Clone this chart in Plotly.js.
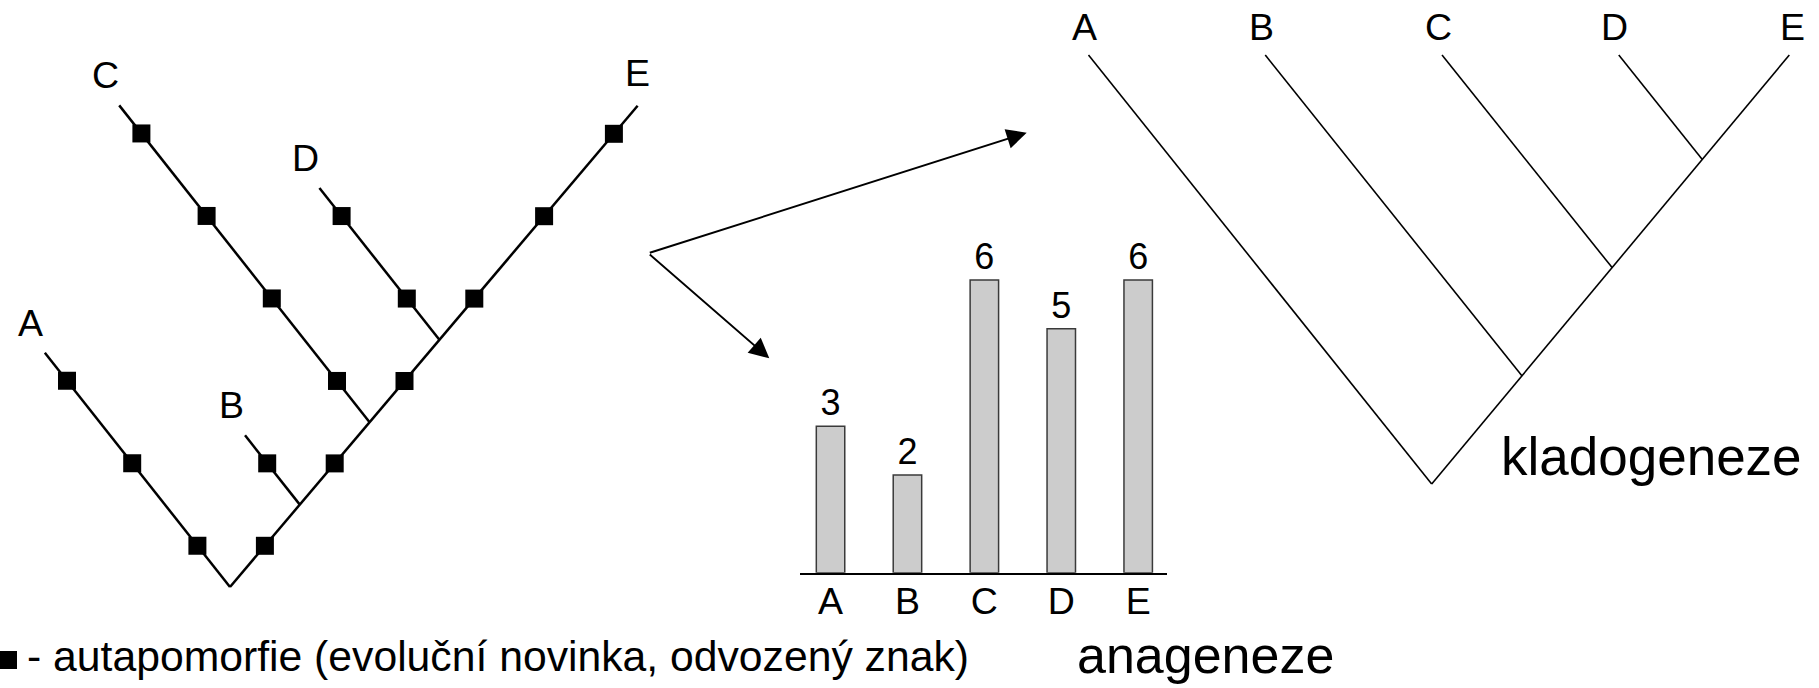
<!DOCTYPE html>
<html><head><meta charset="utf-8">
<script src="https://cdn.plot.ly/plotly-3.0.1.min.js"></script>
<style>html,body{margin:0;padding:0;background:#fff;overflow:hidden}</style>
</head><body><div id="chart" style="width:1819px;height:688px"></div>
<script>
// ---------------- data ----------------
const taxa = ['A', 'B', 'C', 'D', 'E'];
const apomorphies = [3, 2, 6, 5, 6];          // anageneze: autapomorphies per taxon (bar heights)
const branchNode = [0, 1, 2, 3, 3];           // trunk node where each lineage splits (E continues the trunk)
const ownApomorphies = [3, 1, 4, 2, 3];       // squares on each lineage's own branch
const sharedApomorphies = [1, 1, 1];          // squares on trunk segments 0-1, 1-2, 2-3
const legendText = '- autapomorfie (evoluční novinka, odvozený znak)';
const cladoLabel = 'kladogeneze';
const anaLabel = 'anageneze';

// ---------------- styles / geometry ----------------
const FONT = '"Liberation Sans", Arial, Helvetica, sans-serif';
const W = 1819, H = 688;
const LT = {root: [230, 587], U: [69.8, -82.4], V: [-65.2, -82.5], trim: 0.16, sq: 18, lw: 2.5,
            lblLeft: [-14, -30], lblTrunk: [0, -33]};
const RT = {root: [1431.7, 484], U: [90.2, -108.2], vdx: -0.8, tipY: 55, lw: 1.6,
            lblY: 27, lblLeft: -4, lblTrunk: 3};
const LETTER = 37.5;

function lp(a, b) {
  return [LT.root[0] + a * LT.U[0] + b * LT.V[0], LT.root[1] + a * LT.U[1] + b * LT.V[1]];
}

// ---- left (autapomorphy) tree ----
const lx = [], ly = [], sx = [], sy = [], lblL = [];
const last = taxa.length - 1;
for (let i = 0; i < last; i++) {
  const j = branchNode[i];
  const s = lp(j, 0), t = lp(j, ownApomorphies[i] - LT.trim);
  lx.push(s[0], t[0], null); ly.push(s[1], t[1], null);
  for (let k = 0; k < ownApomorphies[i]; k++) { const p = lp(j, k + 0.5); sx.push(p[0]); sy.push(p[1]); }
  lblL.push({t: taxa[i], x: t[0] + LT.lblLeft[0], y: t[1] + LT.lblLeft[1]});
}
{
  const s = lp(0, 0), endA = branchNode[last] + ownApomorphies[last] - LT.trim, t = lp(endA, 0);
  lx.push(s[0], t[0], null); ly.push(s[1], t[1], null);
  for (let k = 0; k < ownApomorphies[last]; k++) { const p = lp(branchNode[last] + k + 0.5, 0); sx.push(p[0]); sy.push(p[1]); }
  sharedApomorphies.forEach((n, seg) => {
    for (let m = 0; m < n; m++) { const p = lp(seg + (m + 0.5) / n, 0); sx.push(p[0]); sy.push(p[1]); }
  });
  lblL.push({t: taxa[last], x: t[0] + LT.lblTrunk[0], y: t[1] + LT.lblTrunk[1]});
}

// ---- right (cladogram) tree ----
const rx = [], ry = [], lblR = [];
for (let i = 0; i < last; i++) {
  const j = branchNode[i];
  const J = [RT.root[0] + j * RT.U[0], RT.root[1] + j * RT.U[1]];
  const tip = [J[0] + RT.vdx * (J[1] - RT.tipY), RT.tipY];
  rx.push(J[0], tip[0], null); ry.push(J[1], tip[1], null);
  lblR.push({t: taxa[i], x: tip[0] + RT.lblLeft, y: RT.lblY});
}
{
  const tt = (RT.root[1] - RT.tipY) / -RT.U[1];
  const tip = [RT.root[0] + tt * RT.U[0], RT.tipY];
  rx.push(RT.root[0], tip[0], null); ry.push(RT.root[1], tip[1], null);
  lblR.push({t: taxa[last], x: tip[0] + RT.lblTrunk, y: RT.lblY});
}

const traces = [
  {type: 'scatter', mode: 'lines', x: lx, y: ly, xaxis: 'x', yaxis: 'y', line: {color: '#000', width: LT.lw}, hoverinfo: 'skip', cliponaxis: false},
  {type: 'scatter', mode: 'markers', x: sx, y: sy, xaxis: 'x', yaxis: 'y', marker: {symbol: 'square', size: LT.sq, color: '#000', line: {width: 0}}, hoverinfo: 'skip', cliponaxis: false},
  {type: 'scatter', mode: 'lines', x: rx, y: ry, xaxis: 'x', yaxis: 'y', line: {color: '#000', width: RT.lw}, hoverinfo: 'skip', cliponaxis: false},
  {type: 'scatter', mode: 'markers', x: [8], y: [660], xaxis: 'x', yaxis: 'y', marker: {symbol: 'square', size: 18, color: '#000', line: {width: 0}}, hoverinfo: 'skip', cliponaxis: false},
  {type: 'bar', x: taxa, y: apomorphies, xaxis: 'x2', yaxis: 'y2', width: 0.37,
   marker: {color: '#cccccc', line: {color: '#3a3a3a', width: 1.5}},
   text: apomorphies.map(String), textposition: 'outside', cliponaxis: false,
   textfont: {family: FONT, size: 36, color: '#000'}, hoverinfo: 'skip'}
];

const ann = [];
lblL.concat(lblR).forEach(l => ann.push({x: l.x, y: l.y, xref: 'x', yref: 'y', text: l.t, showarrow: false,
  xanchor: 'center', yanchor: 'middle', font: {family: FONT, size: LETTER, color: '#000'}}));
ann.push({x: 1499, y: 456, xref: 'x', yref: 'y', text: cladoLabel, showarrow: false, xanchor: 'left', yanchor: 'middle',
  font: {family: FONT, size: 53, color: '#000'}});
ann.push({x: 1075, y: 655, xref: 'x', yref: 'y', text: anaLabel, showarrow: false, xanchor: 'left', yanchor: 'middle',
  font: {family: FONT, size: 52, color: '#000'}});
ann.push({x: 25, y: 656, xref: 'x', yref: 'y', text: legendText, showarrow: false, xanchor: 'left', yanchor: 'middle',
  font: {family: FONT, size: 42.7, color: '#000'}});
// arrows
[[1026.7, 132.7], [769.3, 358.3]].forEach(p => ann.push({x: p[0], y: p[1], ax: 648.3, ay: 253.3, xref: 'x', yref: 'y',
  axref: 'x', ayref: 'y', text: '', showarrow: true, arrowhead: 2, arrowsize: 2, arrowwidth: 2, arrowcolor: '#000', standoff: 0}));

const layout = {
  width: W, height: H, margin: {l: 0, r: 0, t: 0, b: 0}, paper_bgcolor: '#fff', plot_bgcolor: 'rgba(0,0,0,0)',
  showlegend: false, font: {family: FONT, color: '#000'},
  xaxis: {domain: [0, 1], range: [0, W], visible: false, fixedrange: true},
  yaxis: {domain: [0, 1], range: [H, 0], visible: false, fixedrange: true},
  xaxis2: {domain: [800 / W, 1166.8 / W], range: [-0.397, 4.372], anchor: 'y2', type: 'category',
           showline: true, linecolor: '#000', linewidth: 2, ticks: '', showgrid: false, zeroline: false,
           tickfont: {family: FONT, size: LETTER, color: '#000'}, ticklabelstandoff: -6, fixedrange: true},
  yaxis2: {domain: [(H - 572.7) / H, (H - 231.1) / H], range: [0, 7], anchor: 'x2', visible: false,
           showgrid: false, zeroline: false, fixedrange: true},
  annotations: ann
};
Plotly.newPlot('chart', traces, layout, {staticPlot: true, displayModeBar: false});
</script></body></html>
